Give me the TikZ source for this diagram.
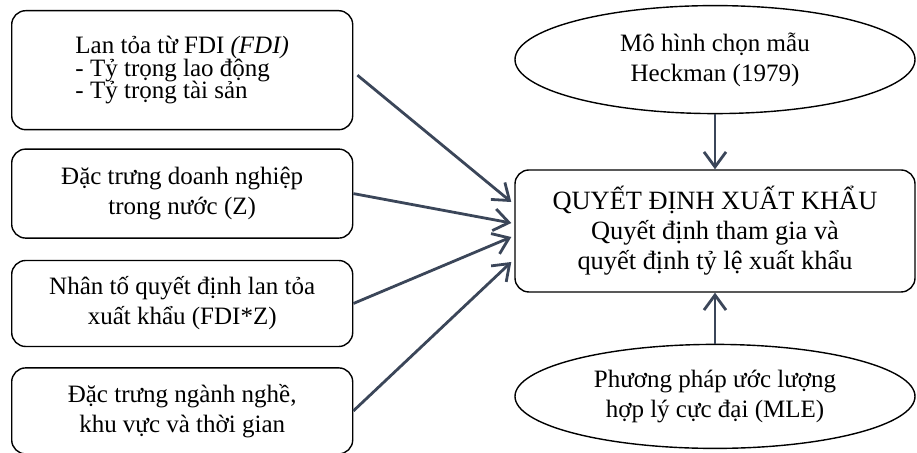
\documentclass[tikz,border=0pt]{standalone}
\usepackage{fontspec}
\setmainfont{Liberation Serif}
\usepackage{tikz}
\usetikzlibrary{positioning,shapes.geometric,arrows.meta}
\definecolor{arrowgray}{RGB}{59,70,89}
\newcommand\tightlines{\fontsize{12.5pt}{11.2pt}\selectfont\lineskiplimit=-20pt\relax}

\begin{document}
\begin{tikzpicture}[>={Straight Barb[length=7.5pt,width=11pt]},
  font=\fontsize{12.5pt}{15pt}\selectfont,
  factorbox/.style={draw, line width=0.7pt, rounded corners=7pt, align=center, minimum width=170.5pt, inner sep=2pt},
  methodell/.style={draw, line width=0.7pt, ellipse, align=center, minimum width=200pt, inner sep=1pt},
  link/.style={->, line width=1.4pt, arrowgray}]
\useasboundingbox (0,0) rectangle (458.5pt,-226.5pt);

% ----------------- Left column -----------------
\node (fdi) [factorbox, minimum height=59.5pt, anchor=north west, align=left,
  font=\tightlines] at (5.5pt,-5pt) {
Lan tỏa từ FDI \textit{(FDI)}\\
- Tỷ trọng lao động\\
- Tỷ trọng tài sản
};

\node (firm) [factorbox, minimum height=44.5pt, below=9pt of fdi] {
Đặc trưng doanh nghiệp\\
trong nước (Z)
};

\node (inter) [factorbox, minimum height=43pt, below=10.5pt of firm] {
Nhân tố quyết định lan tỏa\\
xuất khẩu (FDI*Z)
};

\node (sector) [factorbox, minimum height=43pt, below=10pt of inter] {
Đặc trưng ngành nghề,\\
khu vực và thời gian
};

% ----------------- Right column -----------------
\node (decision) [factorbox, minimum width=200pt, minimum height=61pt,
  font=\fontsize{13.2pt}{15pt}\selectfont] at (357.5pt,-115.5pt) {
QUYẾT ĐỊNH XUẤT KHẨU\\
Quyết định tham gia và\\
quyết định tỷ lệ xuất khẩu
};

\node (heckman) [methodell, minimum height=54pt, above=27.5pt of decision] {
Mô hình chọn mẫu\\
Heckman (1979)
};

\node (mle) [methodell, minimum height=52pt, below=25.5pt of decision] {
Phương pháp ước lượng\\
hợp lý cực đại (MLE)
};

% ----------------- Arrows -----------------
\draw[link] ([xshift=2pt,yshift=-2.5pt]fdi.east) -- ([xshift=-1.5pt,yshift=14.5pt]decision.west);
\draw[link] (firm.east) -- ([xshift=-1.5pt,yshift=4pt]decision.west);
\draw[link] (inter.east) -- ([xshift=-1.5pt,yshift=-3pt]decision.west);
\draw[link] (sector.east) -- ([xshift=-1.5pt,yshift=-15.5pt]decision.west);

\draw[link] (heckman.south) -- (decision.north);
\draw[link] (mle.north) -- (decision.south);

\end{tikzpicture}
\end{document}
